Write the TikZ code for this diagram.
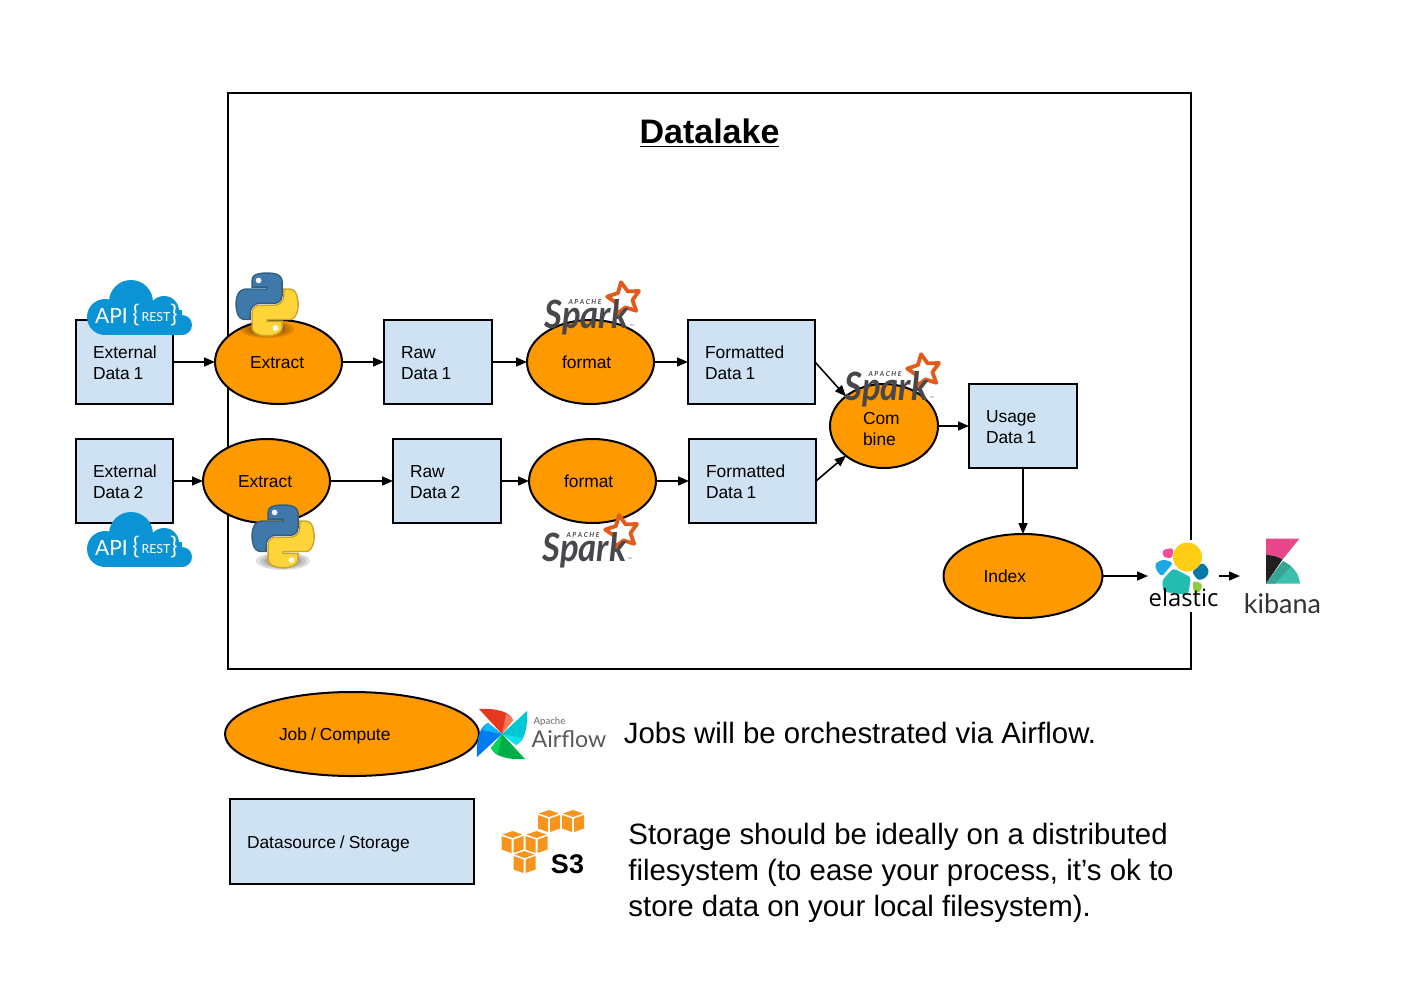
\documentclass[tikz,border=0pt]{standalone}
\usepackage{fontspec}
\setmainfont{Liberation Sans}
\newfontfamily\latofont{Lato}
\newfontfamily\openfont{Open Sans}
\usetikzlibrary{shapes.geometric,positioning,arrows.meta,svg.path}

\definecolor{boxblue}{HTML}{CFE2F3}
\definecolor{joborange}{HTML}{FF9900}
\definecolor{sparkgrey}{HTML}{47474C}
\definecolor{sparkstar}{HTML}{E25A1C}
\definecolor{apiblue}{HTML}{0A94D6}
\definecolor{awsorange}{HTML}{F7941E}
\definecolor{pyblue}{HTML}{3E79A9}
\definecolor{pyblueline}{HTML}{2F5D85}
\definecolor{pyyellow}{HTML}{FFD43B}
\definecolor{pyyellowline}{HTML}{C9A62A}

\tikzset{
  sparklogo/.pic={
    \draw[sparkstar,fill=white,line width=1.9pt,line join=round]
      (-100:17) -- (-64:8.5) -- (-28:17) -- (8:8.5) -- (44:17) -- (80:8.5)
      -- (116:17) -- (152:8.5) -- (188:17) -- (224:8.5) -- cycle;
    \node[sparkgrey,inner sep=0] (-word) at (-37.5,18)
      {\latofont\bfseries\itshape\fontsize{19.5}{20}\selectfont\scalebox{0.89}[1]{Spark}};
    \node[sparkgrey,inner sep=0] (-apache) at (-39,3)
      {\latofont\bfseries\itshape\fontsize{3.4}{4}\selectfont A P A C H E};
    \node[sparkgrey,inner sep=0] (-tm) at (8,28)
      {\latofont\fontsize{2.5}{3}\selectfont ™};
  },
  pythonlogo/.pic={
    \foreach \r in {1,0.85,0.7,0.55,0.4}
      \fill[black,opacity=0.12] (31,56) ellipse ({27*\r} and {9*\r});
    \begin{scope}[x=1pt,y=1pt,scale=0.28,yscale=-1]
      \draw[fill=pyblue,draw=pyblueline,line width=0.7pt] svg {M 54.9 0 C 50.3 0 46 0.4 42.1 1.1 C 30.8 3.1 28.7 7.3 28.7 15 v 10.2 h 26.8 v 3.4 h -36.9 c -7.8 0 -14.6 4.7 -16.7 13.6 c -2.5 10.2 -2.6 16.6 0 27.3 c 1.9 7.9 6.5 13.6 14.2 13.6 h 9.2 v -12.3 c 0 -8.8 7.7 -16.7 16.8 -16.7 h 26.8 c 7.5 0 13.4 -6.1 13.4 -13.6 v -25.5 c 0 -7.3 -6.1 -12.7 -13.4 -13.9 C 64.3 0.3 59.5 0 54.9 0 Z};
      \draw[fill=pyyellow,draw=pyyellowline,line width=0.7pt] svg {M 85.6 28.7 v 11.9 c 0 9.2 -7.8 17 -16.7 17 h -26.8 c -7.3 0 -13.4 6.3 -13.4 13.6 v 25.5 c 0 7.3 6.3 11.5 13.4 13.6 c 8.5 2.5 16.6 2.9 26.8 0 c 6.8 -2 13.4 -5.9 13.4 -13.6 V 86.5 h -26.8 v -3.4 h 40.2 c 7.8 0 10.7 -5.4 13.4 -13.6 c 2.8 -8.4 2.7 -16.5 0 -27.3 c -1.9 -7.8 -5.6 -13.6 -13.4 -13.6 Z};
      \fill[white] (40.4,13.3) circle (5);
      \fill[white] (70.6,98.4) circle (5);
    \end{scope}
  },
  apilogo/.pic={
    \fill[apiblue] (44,22) circle (22);
    \fill[apiblue] (18,37) circle (18);
    \fill[apiblue] (77,31) circle (15);
    \fill[apiblue] (95,45) circle (10);
    \fill[apiblue] (18,30) rectangle (95,55);
    \node[white,inner sep=0] (-api) at (24.5,36)
      {\latofont\fontsize{10.5}{11}\selectfont API};
    \node[white,inner sep=0] (-open) at (49,35)
      {\latofont\fontsize{12}{12}\selectfont\{};
    \node[white,inner sep=0] (-rest) at (69,37)
      {\latofont\fontsize{6.2}{7}\selectfont REST};
    \node[white,inner sep=0] (-close) at (87,35)
      {\latofont\fontsize{12}{12}\selectfont\}};
  },
  cubelogo/.pic={
    \fill[awsorange] (0,-11) -- (10,-7.5) -- (0,-4) -- (-10,-7.5) -- cycle;
    \fill[awsorange] (-11,-6) -- (-1,-2.5) -- (-1,11) -- (-11,7.5) -- cycle;
    \fill[awsorange] (11,-6) -- (1,-2.5) -- (1,11) -- (11,7.5) -- cycle;
  },
  oneline/.style={execute at begin node={\rule[-2pt]{0pt}{10.9pt}\spaceskip=2pt\relax}},
  jobN/.style={ellipse,draw,fill=joborange,line width=1pt,inner sep=0,outer sep=0,
    minimum width=63.5pt,minimum height=42pt,text width=28.5pt,align=left,oneline},
  dataN/.style={rectangle,draw,fill=boxblue,line width=1pt,outer sep=0,
    inner xsep=8.5pt,inner ysep=0,minimum height=42pt,text width=37pt,align=left,
    execute at begin node={\rule{0pt}{6.9pt}\spaceskip=2pt\relax}},
  flowE/.style={{Triangle[length=5.5pt,width=4.5pt]}-,line width=0.8pt},
  flowA/.style={-{Triangle[length=5.5pt,width=4.5pt]},line width=0.8pt},
  noteT/.style={anchor=west,inner sep=0,align=left,
    font=\fontsize{14.7}{18}\selectfont}
}

\begin{document}
\begin{tikzpicture}
  [x=0.5pt,y=-0.5pt,font=\fontsize{8.7}{10.3}\selectfont]

  \useasboundingbox (0,0) rectangle (1424,1002);

  \node[rectangle,draw,line width=1pt,outer sep=0,minimum width=481.5pt,minimum height=288pt]
    (lake) at (709.5,381) {};
  \node[inner sep=0] (title) at (709.5,133.5)
    {\fontsize{17}{20}\selectfont\bfseries\underline{Datalake}};

  \node[dataN,text width=31.5pt] (extern1) at (124.5,362) {External\\Data 1};

  \node[dataN,text width=31.5pt] (extern2) [below=17.5pt of extern1] {External\\Data 2};

  \node[jobN] (extract1) [right=21pt of extern1] {Extract}
    edge [flowE] (extern1);

  \node[jobN] (extract2) [right=15pt of extern2] {Extract}
    edge [flowE] (extern2);

  \node[dataN] (raw1) [right=21pt of extract1] {Raw\\Data 1}
    edge [flowE] (extract1);

  \node[dataN] (raw2) [right=31.5pt of extract2] {Raw\\Data 2}
    edge [flowE] (extract2);

  \node[jobN] (format1) [right=17.5pt of raw1] {format}
    edge [flowE] (raw1);

  \node[jobN] (format2) [right=14pt of raw2] {format}
    edge [flowE] (raw2);

  \node[dataN,text width=46.5pt] (fmt1) [right=17pt of format1] {Formatted\\Data 1}
    edge [flowE] (format1);

  \node[dataN,text width=46.5pt] (fmt2) [right=16.5pt of format2] {Formatted\\Data 1}
    edge [flowE] (format2);

  \node[jobN,minimum width=54pt,text width=21pt] (combine) [right=7.5pt of fmt1,yshift=-32pt] {Com\\bine};

  \draw[flowA] (fmt1.east) -- (combine.north west);
  \draw[flowA] (fmt2.east) -- (combine.south west);

  \node[dataN] (usage) [right=15.5pt of combine] {Usage\\Data 1}
    edge [flowE] (combine);

  \node[jobN,minimum width=79.5pt,text width=39.5pt] (index) [below=33pt of usage] {Index}
    edge [flowE] (usage);

  \node[rectangle,fill=white,inner sep=0,outer sep=0,minimum width=35.5pt,minimum height=36pt]
    (elastic) at (1183.5,576) {}
    edge [flowE] (index);

  \node[rectangle,inner sep=0,outer sep=0,minimum width=42.5pt,minimum height=42pt]
    (kibana) at (1282.5,576) {}
    edge [flowE] (elastic);

  \node[jobN,minimum width=127pt,text width=73pt] (jobkey) at (352,734) {Job / Compute};

  \node[dataN,oneline,minimum height=42.5pt,text width=105pt] (datakey) at (352,841.5) {Datasource / Storage};

  \node[noteT] (jobnote) at (623.5,733) {Jobs will be orchestrated via Airflow.};

  \node[noteT] (datanote) at (628,873)
    {Storage should be ideally on a distributed\\filesystem (to ease your process, it’s ok to\\store data on your local filesystem).};

  \pic (api1) at (87,280) {apilogo};
  \pic (api2) at (87,512) {apilogo};
  \pic (python1) at (236,273) {pythonlogo};
  \pic (python2) at (252,505) {pythonlogo};
  \pic (spark1) at (624,299) {sparklogo};
  \pic (spark2) at (622,532) {sparklogo};
  \pic (spark3) at (924,371) {sparklogo};

  % elastic
  \begin{scope}[rounded corners=1.5pt]
    \fill[fill={rgb,255:red,240;green,78;blue,152}] (1162.3,550) -- (1173.3,547.7) -- (1172.3,558.3) -- (1163.3,557.3) -- cycle;
    \fill[fill={rgb,255:red,27;green,169;blue,228}] (1155,563.3) -- (1163.3,559.3) -- (1173.3,562.7) -- (1161.7,576.7) -- (1156,570) -- cycle;
    \fill[fill={rgb,255:red,7;green,119;blue,170}] (1191.7,571.7) -- (1202.7,562.3) -- (1209.3,570) -- (1206.7,577.3) -- (1198.3,580.7) -- cycle;
    \fill[fill={rgb,255:red,147;green,201;blue,60}] (1192.3,581) -- (1202.3,583.3) -- (1200.7,591.7) -- (1194,593.3) -- cycle;
    \fill[fill={rgb,255:red,36;green,187;blue,177}] (1173.3,568.3) -- (1191,577.3) -- (1188,595) -- (1163,591.7) -- (1162.3,580) -- cycle;
  \end{scope}
  \fill[fill={rgb,255:red,254;green,205;blue,20}] (1187.5,557) circle (14.5);
  \node[inner sep=0] (elasticword) at (1183.5,598)
    {\openfont\fontsize{11.9}{13}\selectfont elastic};

  % kibana
  \fill[fill={rgb,255:red,232;green,72;blue,139}] (1266,538.5) -- (1299.5,538.5) -- (1282.5,559.5)
    .. controls (1277,556) and (1271,555) .. (1266,555) -- cycle;
  \fill[fill={rgb,255:red,35;green,31;blue,32}] (1266,555) .. controls (1271,555) and (1277,556) .. (1282.5,559.5)
    -- (1266,583.5) -- cycle;
  \fill[fill={rgb,255:red,62;green,190;blue,176}] (1266,583.5) -- (1283,561)
    .. controls (1292,565) and (1299,573) .. (1300,583.5) -- cycle;
  \fill[fill={rgb,255:red,55;green,165;blue,149}] (1266,583.5) -- (1283,561) -- (1291,566.5) -- (1275,583.5) -- cycle;
  \node[inner sep=0,text=black!80] (kibanaword) at (1282.5,604)
    {\latofont\fontsize{13.5}{14}\selectfont kibana};

  % airflow
  \foreach \a/\c/\d in {0/E43921/FF7557,-90/00C7D4/11E1EE,-180/00AD46/04D659,-270/017CEE/0CB6FF}{
    \definecolor{bladeA}{HTML}{\c}
    \definecolor{bladeB}{HTML}{\d}
    \begin{scope}[shift={(502,734)},rotate=\a]
      \fill[bladeA] (-23,-25) .. controls (-5,-26) and (8,-22) .. (11,-14) -- (0,0) -- cycle;
      \fill[bladeB] (0,0) -- (11,-14) .. controls (10,-16) and (6,-19) .. (4,-20) -- cycle;
    \end{scope}
  }
  \node[inner sep=0,text=black!60] (apacheword) at (549.5,722)
    {\latofont\fontsize{4.8}{5}\selectfont Apache};
  \node[inner sep=0,text=black!65] (airflowword) at (569,739)
    {\latofont\fontsize{11.6}{13}\selectfont Airflow};

  % s3
  \foreach \cx/\cy [count=\i] in {549/821,573/821,512.5/842,536.5/842,524.5/862}{
    \pic (cube\i) at (\cx,\cy) {cubelogo};
  }
  \node[inner sep=0] (s3word) at (567.5,864)
    {\fontsize{13.5}{14}\selectfont\bfseries S3};

\end{tikzpicture}
\end{document}
